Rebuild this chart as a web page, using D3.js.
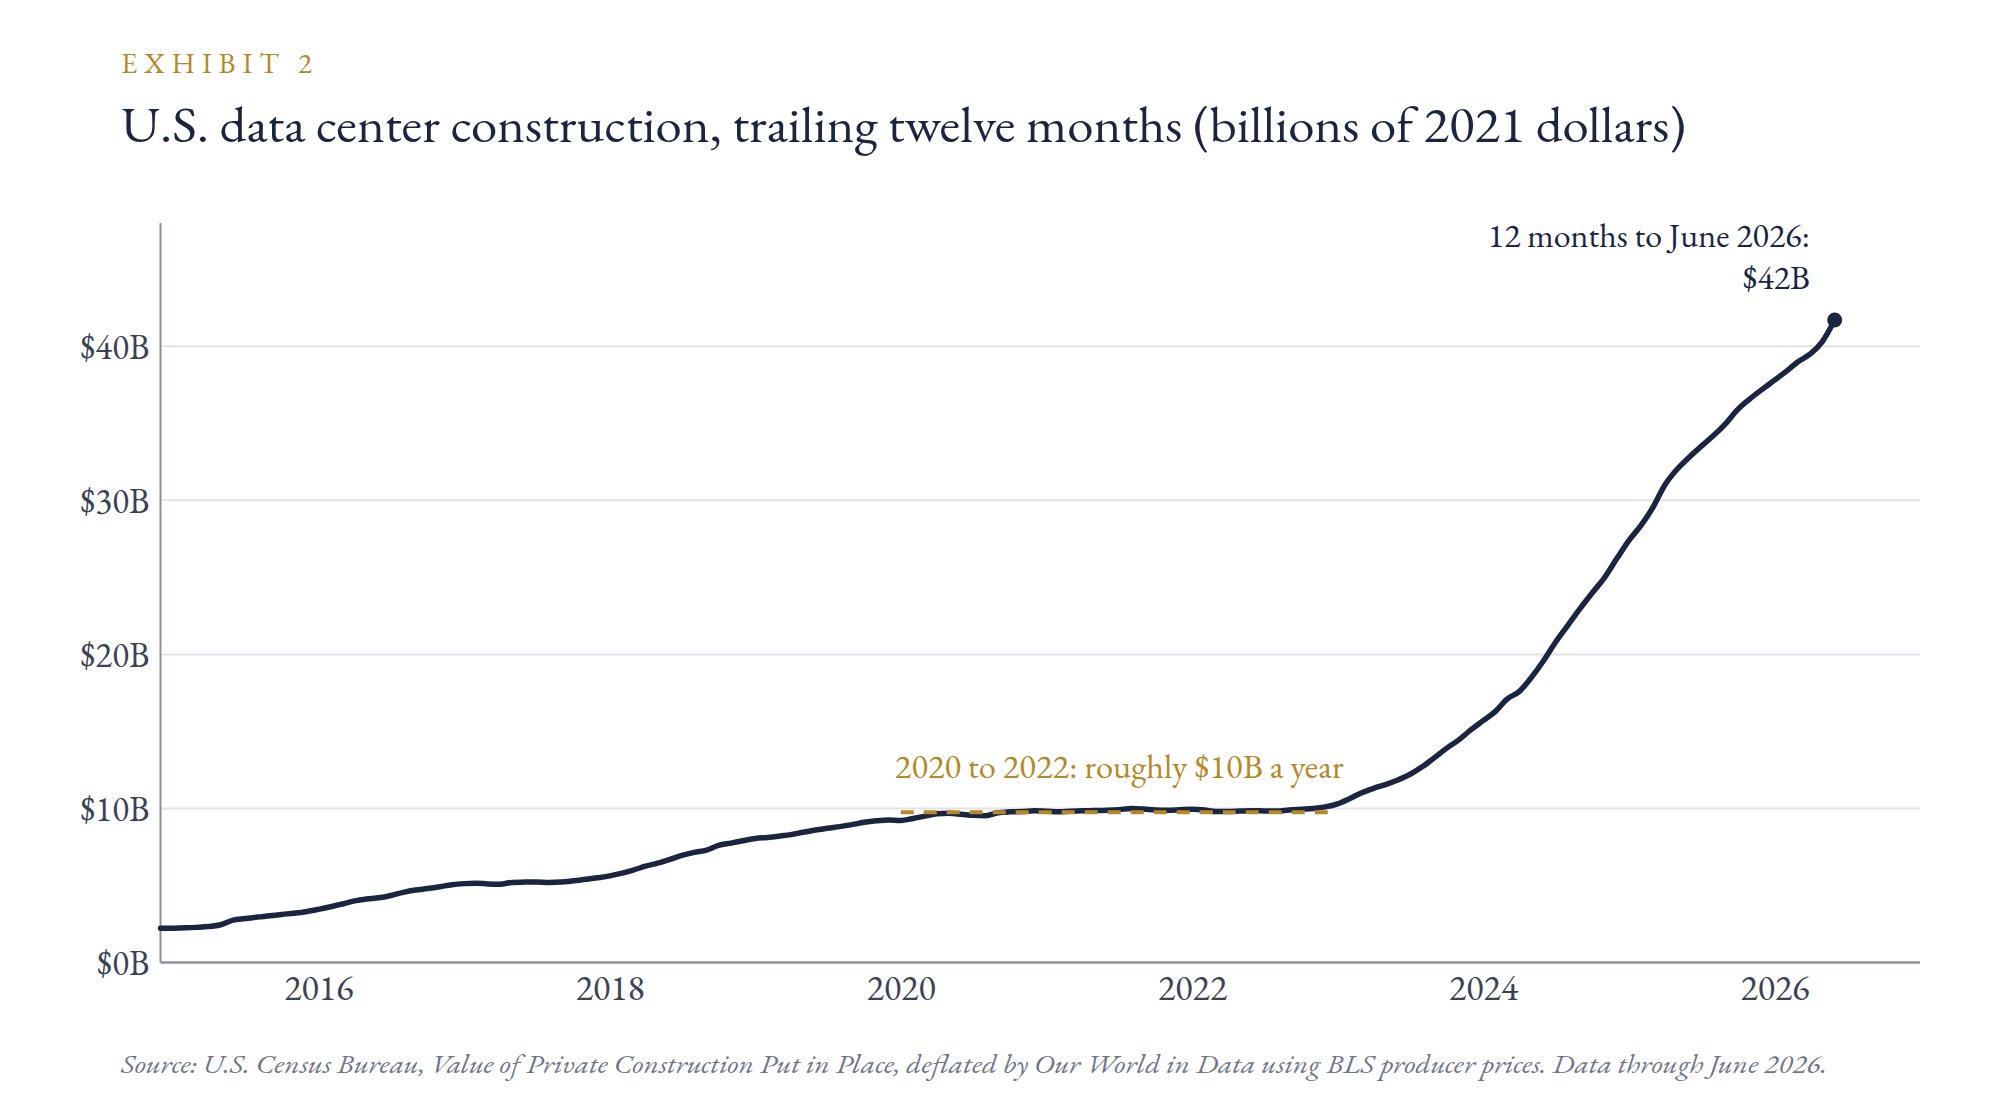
<!DOCTYPE html>
<html>
<head>
<meta charset="utf-8">
<script src="https://cdn.jsdelivr.net/npm/d3@7"></script>
<style>
  html, body { margin: 0; padding: 0; background: #ffffff; }
  svg { display: block; }
</style>
</head>
<body>
<svg id="chart" width="2000" height="1120"></svg>
<script>
// ---------------- DATA ----------------
const firstMonth = "2014-12";          // first observation (trailing twelve months ending Dec 2014)
// Monthly TTM value, billions of 2021 dollars, Dec 2014 .. Jun 2026
const ttm2014 = [2.22];
const ttm2015 = [2.23, 2.25, 2.28, 2.33, 2.45, 2.75, 2.85, 2.95, 3.03, 3.12, 3.20, 3.30];
const ttm2016 = [3.45, 3.62, 3.80, 4.00, 4.12, 4.20, 4.35, 4.55, 4.70, 4.80, 4.92, 5.05];
const ttm2017 = [5.12, 5.15, 5.10, 5.08, 5.20, 5.22, 5.23, 5.20, 5.22, 5.30, 5.40, 5.50];
const ttm2018 = [5.62, 5.80, 6.00, 6.25, 6.45, 6.70, 6.95, 7.15, 7.30, 7.60, 7.75, 7.90];
const ttm2019 = [8.05, 8.12, 8.20, 8.30, 8.45, 8.60, 8.72, 8.82, 8.95, 9.10, 9.20, 9.25];
const ttm2020 = [9.22, 9.35, 9.50, 9.65, 9.68, 9.62, 9.55, 9.52, 9.72, 9.78, 9.80, 9.85];
const ttm2021 = [9.82, 9.78, 9.82, 9.85, 9.86, 9.88, 9.92, 10.00, 9.96, 9.90, 9.88, 9.92];
const ttm2022 = [9.95, 9.90, 9.80, 9.80, 9.83, 9.85, 9.84, 9.83, 9.90, 9.95, 10.00, 10.10];
const ttm2023 = [10.30, 10.65, 11.00, 11.30, 11.55, 11.85, 12.20, 12.70, 13.30, 13.90, 14.45, 15.10];
const ttm2024 = [15.70, 16.30, 17.10, 17.60, 18.50, 19.60, 20.80, 21.90, 23.00, 24.00, 25.00, 26.20];
const ttm2025 = [27.40, 28.40, 29.50, 31.00, 32.00, 32.80, 33.50, 34.20, 35.00, 35.90, 36.60, 37.20];
const ttm2026 = [37.80, 38.40, 39.00, 39.50, 40.30, 41.70];

// Reference band: 2020 to 2022 plateau
const plateauStart = "2020-01";
const plateauEnd = "2023-01";
const plateauValue = 9.75;

const xTickYears = [2016, 2018, 2020, 2022, 2024, 2026];
const yTickValues = [0, 10, 20, 30, 40];
const xDomain = ["2014-12", "2027-01"];
const yDomain = [0, 48];

const exhibitText = "EXHIBIT 2";
const titleText = "U.S. data center construction, trailing twelve months (billions of 2021 dollars)";
const endLabelLines = ["12 months to June 2026:", "$42B"];
const plateauLabel = "2020 to 2022: roughly $10B a year";
const sourceText = "Source: U.S. Census Bureau, Value of Private Construction Put in Place, deflated by Our World in Data using BLS producer prices. Data through June 2026.";

// ---------------- BUILD ----------------
const parseMonth = d3.timeParse("%Y-%m");
const allValues = [].concat(ttm2014, ttm2015, ttm2016, ttm2017, ttm2018, ttm2019,
  ttm2020, ttm2021, ttm2022, ttm2023, ttm2024, ttm2025, ttm2026);
const start = parseMonth(firstMonth);
const series = allValues.map((v, i) => ({ date: d3.timeMonth.offset(start, i), value: v }));

const NAVY = "#1b2540";
const GOLD = "#b3892a";
const TICK = "#3b4254";
const AXIS = "#8c909c";
const GRID = "#e3e4e9";
const SERIF = "'EB Garamond', 'Liberation Serif', 'Times New Roman', serif";

const svg = d3.select("#chart");

const plot = { left: 160.5, right: 1920, top: 223, bottom: 962.5 };

const x = d3.scaleTime()
  .domain(xDomain.map(parseMonth))
  .range([plot.left, plot.right]);
const y = d3.scaleLinear()
  .domain(yDomain)
  .range([plot.bottom, plot.top]);

// Header texts
svg.append("text")
  .attr("x", 121).attr("y", 73)
  .attr("font-family", SERIF).attr("font-size", 29)
  .attr("fill", GOLD)
  .attr("textLength", 191).attr("lengthAdjust", "spacing")
  .text(exhibitText);

svg.append("text")
  .attr("x", 121).attr("y", 141.5)
  .attr("font-family", SERIF).attr("font-size", 50)
  .attr("fill", NAVY)
  .attr("textLength", 1565).attr("lengthAdjust", "spacingAndGlyphs")
  .text(titleText);

// Grid lines
svg.append("g")
  .selectAll("line")
  .data(yTickValues.filter(v => v > 0))
  .join("line")
  .attr("x1", plot.left).attr("x2", plot.right)
  .attr("y1", d => y(d)).attr("y2", d => y(d))
  .attr("stroke", GRID).attr("stroke-width", 2);

// Y axis
const yAxis = d3.axisLeft(y)
  .tickValues(yTickValues)
  .tickSize(0)
  .tickPadding(11)
  .tickFormat(d => `$${d}B`);
const gy = svg.append("g").attr("transform", `translate(${plot.left},0)`).call(yAxis);
gy.select(".domain").remove();
gy.selectAll("text")
  .attr("font-family", SERIF).attr("font-size", 35)
  .attr("fill", TICK).attr("dy", "0.34em");
svg.append("line")
  .attr("x1", plot.left).attr("x2", plot.left)
  .attr("y1", plot.top).attr("y2", plot.bottom)
  .attr("stroke", AXIS).attr("stroke-width", 2);

// X axis
const xAxis = d3.axisBottom(x)
  .tickValues(xTickYears.map(yy => new Date(yy, 0, 1)))
  .tickSize(0)
  .tickPadding(12)
  .tickFormat(d3.timeFormat("%Y"));
const gx = svg.append("g").attr("transform", `translate(0,${plot.bottom})`).call(xAxis);
gx.select(".domain").remove();
gx.selectAll("text")
  .attr("font-family", SERIF).attr("font-size", 36)
  .attr("fill", TICK).attr("dy", "0.71em");
svg.append("line")
  .attr("x1", plot.left).attr("x2", plot.right)
  .attr("y1", plot.bottom).attr("y2", plot.bottom)
  .attr("stroke", AXIS).attr("stroke-width", 2.5);

// Main line
const line = d3.line()
  .x(d => x(d.date))
  .y(d => y(d.value))
  .curve(d3.curveMonotoneX);
svg.append("path")
  .datum(series)
  .attr("d", line)
  .attr("fill", "none")
  .attr("stroke", NAVY)
  .attr("stroke-width", 5.5)
  .attr("stroke-linejoin", "round")
  .attr("stroke-linecap", "round");

// Plateau dashed line + label
const p0 = parseMonth(plateauStart), p1 = parseMonth(plateauEnd);
svg.append("line")
  .attr("x1", x(p0)).attr("x2", x(p1) - 2)
  .attr("y1", y(plateauValue)).attr("y2", y(plateauValue))
  .attr("stroke", GOLD).attr("stroke-width", 4)
  .attr("stroke-dasharray", "13 10");
svg.append("text")
  .attr("x", (x(p0) + x(p1)) / 2).attr("y", 778)
  .attr("text-anchor", "middle")
  .attr("font-family", SERIF).attr("font-size", 34.5)
  .attr("fill", GOLD)
  .text(plateauLabel);

// End point + label
const last = series[series.length - 1];
svg.append("circle")
  .attr("cx", x(last.date)).attr("cy", y(last.value))
  .attr("r", 7.5).attr("fill", NAVY);
const endLabelBaselines = [247, 289];
endLabelLines.forEach((t, i) => {
  svg.append("text")
    .attr("text-anchor", "end")
    .attr("font-family", SERIF).attr("font-size", 34)
    .attr("fill", NAVY)
    .attr("x", 1810).attr("y", endLabelBaselines[i])
    .text(t);
});

// Source
svg.append("text")
  .attr("x", 121).attr("y", 1073)
  .attr("font-family", SERIF).attr("font-size", 27)
  .attr("font-style", "italic")
  .attr("fill", "#6e7587")
  .attr("textLength", 1706).attr("lengthAdjust", "spacingAndGlyphs")
  .text(sourceText);
</script>
</body>
</html>
